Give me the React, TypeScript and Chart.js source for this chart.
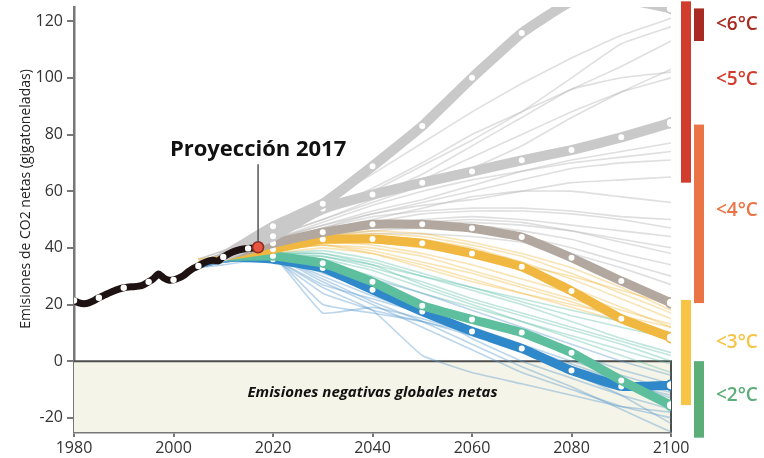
import React, { useEffect, useRef } from "react";
import { Chart, registerables } from "chart.js";

Chart.register(...registerables);

const FONT = '"Open Sans", "Noto Sans", "DejaVu Sans", sans-serif';

// Historical net CO2 emissions (Gt)
const histYears = [
  1980, 1981, 1982, 1983, 1984, 1985, 1986, 1987, 1988, 1989, 1990, 1991, 1992,
  1993, 1994, 1995, 1996, 1997, 1998, 1999, 2000, 2001, 2002, 2003, 2004, 2005,
  2006, 2007, 2008, 2009, 2010, 2011, 2012, 2013, 2014, 2015, 2016, 2017,
];
const histValues = [
  21.4, 20.6, 20.3, 20.6, 21.4, 22.4, 23.2, 24.0, 24.8, 25.4, 25.9, 26.2, 26.3,
  26.5, 27.0, 28.0, 29.2, 30.8, 29.4, 28.6, 28.7, 29.3, 30.2, 31.6, 32.8, 33.6,
  34.6, 35.3, 35.6, 35.4, 36.8, 37.8, 38.6, 39.2, 39.6, 39.8, 39.9, 40.2,
];

const projectionYear = 2017;
const projectionValue = 40.2;
const projectionLabel = "Proyección 2017";

// Highlighted pathways
const pathYears = [2010, 2020, 2030, 2040, 2050, 2060, 2070, 2080, 2090, 2100];
const pathHighest = [37, 47.6, 55.6, 68.8, 83.0, 100.0, 115.8, 127.0, 128.0, 124.5];
const pathHigh = [37, 44.1, 53.9, 58.8, 63.0, 66.9, 70.9, 74.5, 79.0, 84.1];
const pathMiddle = [37, 41.6, 45.5, 48.3, 48.3, 46.9, 43.8, 36.5, 28.3, 20.6];
const pathLow = [37, 39.5, 43.0, 43.1, 41.6, 38.0, 33.3, 24.8, 15.0, 8.3];
const pathLower = [37, 37.1, 34.6, 28.0, 19.6, 14.7, 10.1, 3.0, -6.8, -15.6];
const pathLowest = [37, 36.0, 32.9, 25.2, 17.5, 10.5, 4.5, -3.3, -8.9, -8.5];

// Individual scenario runs
const runYears = [2005, 2010, 2020, 2030, 2040, 2050, 2060, 2070, 2080, 2090, 2100];
const grayRuns = [
  [36, 39, 46, 56, 66, 77, 88, 98, 107, 115, 121],
  [36, 39, 45, 53, 61, 70, 80, 88, 96, 104, 113],
  [35, 38, 45, 52, 58, 66, 76, 86, 96, 100, 102],
  [35, 38, 44, 50, 56, 62, 68, 76, 86, 95, 103],
  [35, 38, 44, 52, 60, 69, 78, 88, 100, 112, 118],
  [35, 38, 43, 48, 53, 57, 62, 67, 71, 74, 77],
  [35, 38, 43, 49, 55, 60, 64, 67, 70, 72, 74],
  [35, 37, 43, 48, 52, 56, 60, 64, 68, 70, 71],
  [34, 37, 42, 47, 52, 55, 57, 60, 63, 64, 65],
  [34, 37, 42, 46, 50, 54, 58, 60, 60, 58, 56],
  [34, 37, 42, 47, 51, 53, 54, 54, 53, 51, 50],
  [34, 37, 42, 46, 49, 52, 53, 53, 52, 50, 47],
  [34, 37, 42, 46, 48, 50, 51, 50, 48, 46, 44],
  [34, 37, 41, 45, 48, 49, 49, 48, 46, 43, 40],
  [34, 37, 41, 45, 47, 48, 48, 46, 43, 38, 34],
  [34, 37, 41, 44, 46, 47, 46, 44, 40, 35, 30],
  [34, 37, 41, 44, 47, 49, 50, 49, 46, 42, 38],
  [34, 37, 41, 43, 45, 45, 44, 42, 38, 33, 27],
  [35, 38, 44, 50, 57, 64, 72, 80, 88, 95, 100],
];
const yellowRuns = [
  [36, 37, 40, 44, 45, 44, 41, 37, 31, 24, 17],
  [35, 37, 40, 43, 44, 43, 40, 35, 29, 22, 15],
  [35, 37, 39, 42, 42, 40, 37, 32, 26, 19, 12],
  [35, 36, 39, 42, 41, 38, 34, 29, 24, 18, 13],
  [35, 36, 39, 41, 40, 37, 32, 27, 22, 16, 10],
  [35, 36, 39, 43, 43, 41, 38, 34, 30, 25, 20],
  [34, 36, 39, 41, 39, 35, 31, 26, 21, 15, 9],
  [34, 36, 38, 40, 38, 34, 29, 24, 19, 14, 8],
  [36, 37, 40, 44, 46, 45, 42, 38, 33, 26, 18],
  [35, 37, 39, 41, 38, 33, 28, 24, 20, 16, 12],
];
const tealRuns = [
  [34, 36, 38, 38, 35, 30, 25, 20, 14, 8, 3],
  [34, 36, 38, 37, 33, 28, 22, 17, 12, 7, 2],
  [34, 36, 38, 39, 36, 31, 26, 21, 16, 12, 8],
  [34, 35, 37, 36, 32, 26, 20, 14, 9, 4, -1],
  [34, 35, 37, 37, 34, 30, 26, 22, 18, 14, 10],
  [34, 35, 37, 35, 30, 24, 19, 14, 8, 2, -4],
  [34, 36, 38, 38, 34, 27, 21, 16, 11, 6, 0],
];
const blueRuns = [
  [33, 35, 37, 30, 23, 17, 11, 5, -1, -7, -13],
  [33, 35, 37, 17, 19, 15, 10, 4, -2, -8, -12],
  [33, 35, 37, 28, 20, 12, 4, -4, -10, -16, -20],
  [33, 35, 36, 26, 18, 2, -4, -8, -12, -16, -18],
  [33, 35, 37, 32, 27, 21, 15, 9, 3, -3, -8],
  [33, 35, 36, 24, 18, 14, 9, 3, -4, -12, -22],
  [33, 35, 37, 31, 25, 18, 8, 0, -6, -12, -17],
  [33, 34, 36, 27, 22, 17, 12, 6, 0, -5, -10],
  [33, 35, 37, 33, 29, 24, 18, 12, 6, 0, -5],
  [33, 35, 37, 29, 21, 14, 6, -2, -9, -17, -25],
  [33, 35, 37, 20, 17, 14, 10, 4, -2, -7, -11],
];

// Axes
const xTicks = [1980, 2000, 2020, 2040, 2060, 2080, 2100];
const yTicks = [-20, 0, 20, 40, 60, 80, 100, 120];
const yMin = -25;
const yMax = 125;
const yTitle = "Emisiones de CO2 netas (gigatoneladas)";
const negativeLabel = "Emisiones negativas globales netas";
const negativeLabelAt = { year: 2040, value: -11 };

// Warming ranges shown beside the plot
const bandLabels = ["<6°C", "<5°C", "<4°C", "<3°C", "<2°C"];
const bandTops = [124.5, 127, 83.5, 21.6, 0];
const bandBottoms = [113, 63, 20.5, -15.5, -27];
const bandLabelValues = [118.7, 99.3, 53, 6.6, -12];
const bandColumns = [1, 0, 1, 0, 1];
const bandColors = ["#a82a22", "#d13c2c", "#eb7447", "#f7c446", "#5cae78"];

const pts = (years: number[], values: number[]) =>
  years.map((yr, i) => ({ x: yr, y: values[i] }));

const thin = (values: number[], color: string) => ({
  data: pts(runYears, values),
  borderColor: color,
  borderWidth: 1.6,
  pointRadius: 0,
  tension: 0.1,
  fill: false,
});

const thick = (values: number[], color: string, width: number) => ({
  data: pts(pathYears, values),
  borderColor: color,
  borderWidth: width,
  borderJoinStyle: "round",
  borderCapStyle: "round",
  tension: 0.1,
  fill: false,
  pointRadius: pathYears.map((_, i) => (i === 0 ? 0 : i === pathYears.length - 1 ? 5 : 3)),
  pointBackgroundColor: "#ffffff",
  pointBorderColor: color,
  pointBorderWidth: pathYears.map((_, i) => (i === pathYears.length - 1 ? 1.8 : 0)),
});

const decorPlugin = {
  id: "decor",
  beforeDatasetsDraw(chart: any) {
    const { ctx, chartArea, scales } = chart;
    const x = scales.x;
    const y = scales.y;
    const x0 = x.getPixelForValue(xTicks[0]);
    const x1 = x.getPixelForValue(xTicks[xTicks.length - 1]);
    const yz = y.getPixelForValue(0);
    ctx.save();
    ctx.fillStyle = "#f4f4e8";
    ctx.fillRect(x0, yz, x1 - x0, chartArea.bottom - yz);
    ctx.strokeStyle = "#4d4d4d";
    ctx.lineWidth = 2;
    ctx.beginPath();
    ctx.moveTo(x0, yz);
    ctx.lineTo(x1, yz);
    ctx.lineTo(x1, chartArea.bottom);
    ctx.stroke();
    ctx.restore();
  },
  afterDraw(chart: any) {
    const { ctx, chartArea, scales } = chart;
    const x = scales.x;
    const y = scales.y;
    ctx.save();

    // y axis title
    ctx.translate(26, 199);
    ctx.rotate(-Math.PI / 2);
    ctx.fillStyle = "#222";
    ctx.font = `14px ${FONT}`;
    ctx.textAlign = "center";
    ctx.textBaseline = "middle";
    ctx.fillText(yTitle, 0, 0);
    ctx.setTransform(1, 0, 0, 1, 0, 0);

    // negative emissions caption
    ctx.font = `italic bold 15px ${FONT}`;
    ctx.fillStyle = "#111";
    ctx.textAlign = "center";
    ctx.fillText(
      negativeLabel,
      x.getPixelForValue(negativeLabelAt.year),
      y.getPixelForValue(negativeLabelAt.value)
    );

    // projection callout
    const px = x.getPixelForValue(projectionYear);
    ctx.strokeStyle = "#555";
    ctx.lineWidth = 1.5;
    ctx.beginPath();
    ctx.moveTo(px, y.getPixelForValue(69.5));
    ctx.lineTo(px, y.getPixelForValue(projectionValue) - 5);
    ctx.stroke();
    ctx.font = `bold 22px ${FONT}`;
    ctx.fillStyle = "#111";
    ctx.fillText(projectionLabel, px, y.getPixelForValue(74.7));

    // warming range bars and labels
    const right = chartArea.right;
    bandLabels.forEach((label, i) => {
      const bx = right + 10 + bandColumns[i] * 13;
      const top = y.getPixelForValue(bandTops[i]);
      const bottom = y.getPixelForValue(bandBottoms[i]);
      ctx.fillStyle = bandColors[i];
      ctx.fillRect(bx, top, 10, bottom - top);
      ctx.font = `600 19px ${FONT}`;
      ctx.textAlign = "left";
      ctx.fillText(label, right + 45, y.getPixelForValue(bandLabelValues[i]));
    });
    ctx.restore();
  },
};

export default function App() {
  const canvasRef = useRef<HTMLCanvasElement | null>(null);

  useEffect(() => {
    if (!canvasRef.current) return;

    const datasets: any[] = [
      ...grayRuns.map((r) => thin(r, "rgba(185,185,185,0.45)")),
      ...yellowRuns.map((r) => thin(r, "rgba(240,185,60,0.38)")),
      ...tealRuns.map((r) => thin(r, "rgba(90,190,165,0.38)")),
      ...blueRuns.map((r) => thin(r, "rgba(95,158,208,0.42)")),
      thick(pathLowest, "#2f88c9", 9),
      thick(pathLower, "#5dbf9d", 9),
      thick(pathLow, "#f0b840", 9),
      thick(pathMiddle, "#b3a89f", 9),
      thick(pathHigh, "#c9c9c9", 10),
      thick(pathHighest, "#c9c9c9", 10),
      {
        data: pts(histYears, histValues),
        borderColor: "#1e1212",
        borderWidth: 7,
        borderJoinStyle: "round",
        borderCapStyle: "round",
        tension: 0.2,
        fill: false,
        pointRadius: histYears.map((yr, i) =>
          i === histYears.length - 1 ? 0 : yr % 5 === 0 ? 3.2 : 0
        ),
        pointBackgroundColor: "#ffffff",
        pointBorderWidth: 0,
      },
      {
        data: [{ x: projectionYear, y: projectionValue }],
        pointRadius: 5.5,
        pointBackgroundColor: "#e5553f",
        pointBorderColor: "#8e2a1e",
        pointBorderWidth: 1.5,
        showLine: false,
      },
    ];
    const n = datasets.length;
    datasets.forEach((d, i) => {
      d.order = n - i;
    });

    const chart = new Chart(canvasRef.current, {
      type: "line",
      data: { datasets },
      options: {
        animation: false,
        responsive: true,
        maintainAspectRatio: false,
        events: [],
        layout: { padding: { top: 5, right: 93, bottom: 0, left: 0 } },
        plugins: { legend: { display: false }, tooltip: { enabled: false } },
        scales: {
          x: {
            type: "linear",
            min: xTicks[0],
            max: xTicks[xTicks.length - 1],
            afterBuildTicks: (s: any) => {
              s.ticks = xTicks.map((v) => ({ value: v }));
            },
            afterFit: (s: any) => {
              s.height = 26;
            },
            grid: {
              drawOnChartArea: false,
              drawTicks: true,
              tickLength: 5,
              color: "#777",
              lineWidth: 2,
            },
            border: { display: true, color: "#777", width: 2.5 },
            ticks: {
              padding: 2,
              color: "#333",
              font: { family: FONT, size: 16 },
              callback: (v: any) => String(v),
              maxRotation: 0,
            },
          },
          y: {
            min: yMin,
            max: yMax,
            afterBuildTicks: (s: any) => {
              s.ticks = yTicks.map((v) => ({ value: v }));
            },
            afterFit: (s: any) => {
              s.width = 74;
              s.paddingTop = 0;
              s.paddingBottom = 0;
            },
            grid: {
              drawOnChartArea: false,
              drawTicks: true,
              tickLength: 7,
              color: "#777",
              lineWidth: 2,
            },
            border: { display: true, color: "#777", width: 2.5 },
            ticks: {
              padding: 4,
              color: "#333",
              font: { family: FONT, size: 16 },
              callback: (v: any) => String(v),
            },
          },
        },
      },
      plugins: [decorPlugin],
    });

    return () => chart.destroy();
  }, []);

  return (
    <div style={{ position: "fixed", left: 0, top: 0, width: 764, height: 458, background: "#fff" }}>
      <canvas ref={canvasRef} />
    </div>
  );
}
